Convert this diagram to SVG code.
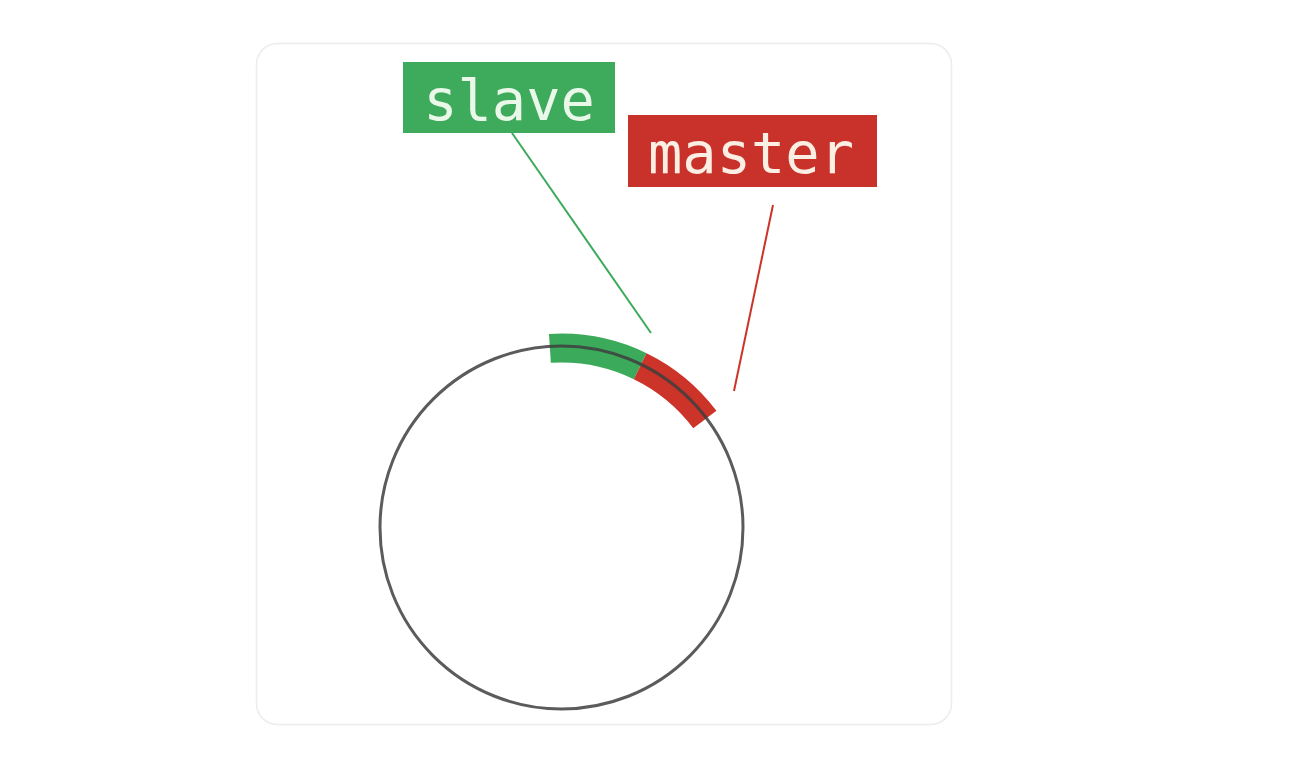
<svg xmlns="http://www.w3.org/2000/svg" width="1292" height="778" viewBox="0 0 1292 778">
  <style>
    .label { font-family: "DejaVu Sans Mono", "Liberation Mono", monospace; font-size: 57px; text-anchor: middle; }
    .band { fill: none; stroke-width: 29; }
  </style>
  <rect width="1292" height="778" fill="#ffffff"/>
  <rect id="card" x="256.5" y="43.5" width="695" height="681" rx="21" fill="#ffffff" stroke="#ececec" stroke-width="1.5"/>

  <g id="ring">
    <path class="band" stroke="#3caa5b" d="M549.92,348.37 A179.5,179.5 0 0 1 640.19,366.17"/>
    <path class="band" stroke="#cc3329" d="M640.19,366.17 A179.5,179.5 0 0 1 704.85,419.48"/>
    <circle cx="561.5" cy="527.5" r="181.5" fill="none" stroke="#3e3e3e" stroke-opacity="0.85" stroke-width="3"/>
  </g>

  <g id="connectors">
    <line x1="512" y1="133" x2="651" y2="333" stroke="#3caa5b" stroke-width="2"/>
    <line x1="773" y1="205" x2="734" y2="391" stroke="#cc3329" stroke-width="2"/>
  </g>

  <g id="slave">
    <rect x="403" y="62" width="212" height="71" fill="#3eaa5c"/>
    <text class="label" x="509" y="120" fill="#eaf8ea">slave</text>
  </g>

  <g id="master">
    <rect x="628" y="115" width="249" height="72" fill="#c9322a"/>
    <text class="label" x="751" y="173" fill="#fbeee2">master</text>
  </g>
</svg>
